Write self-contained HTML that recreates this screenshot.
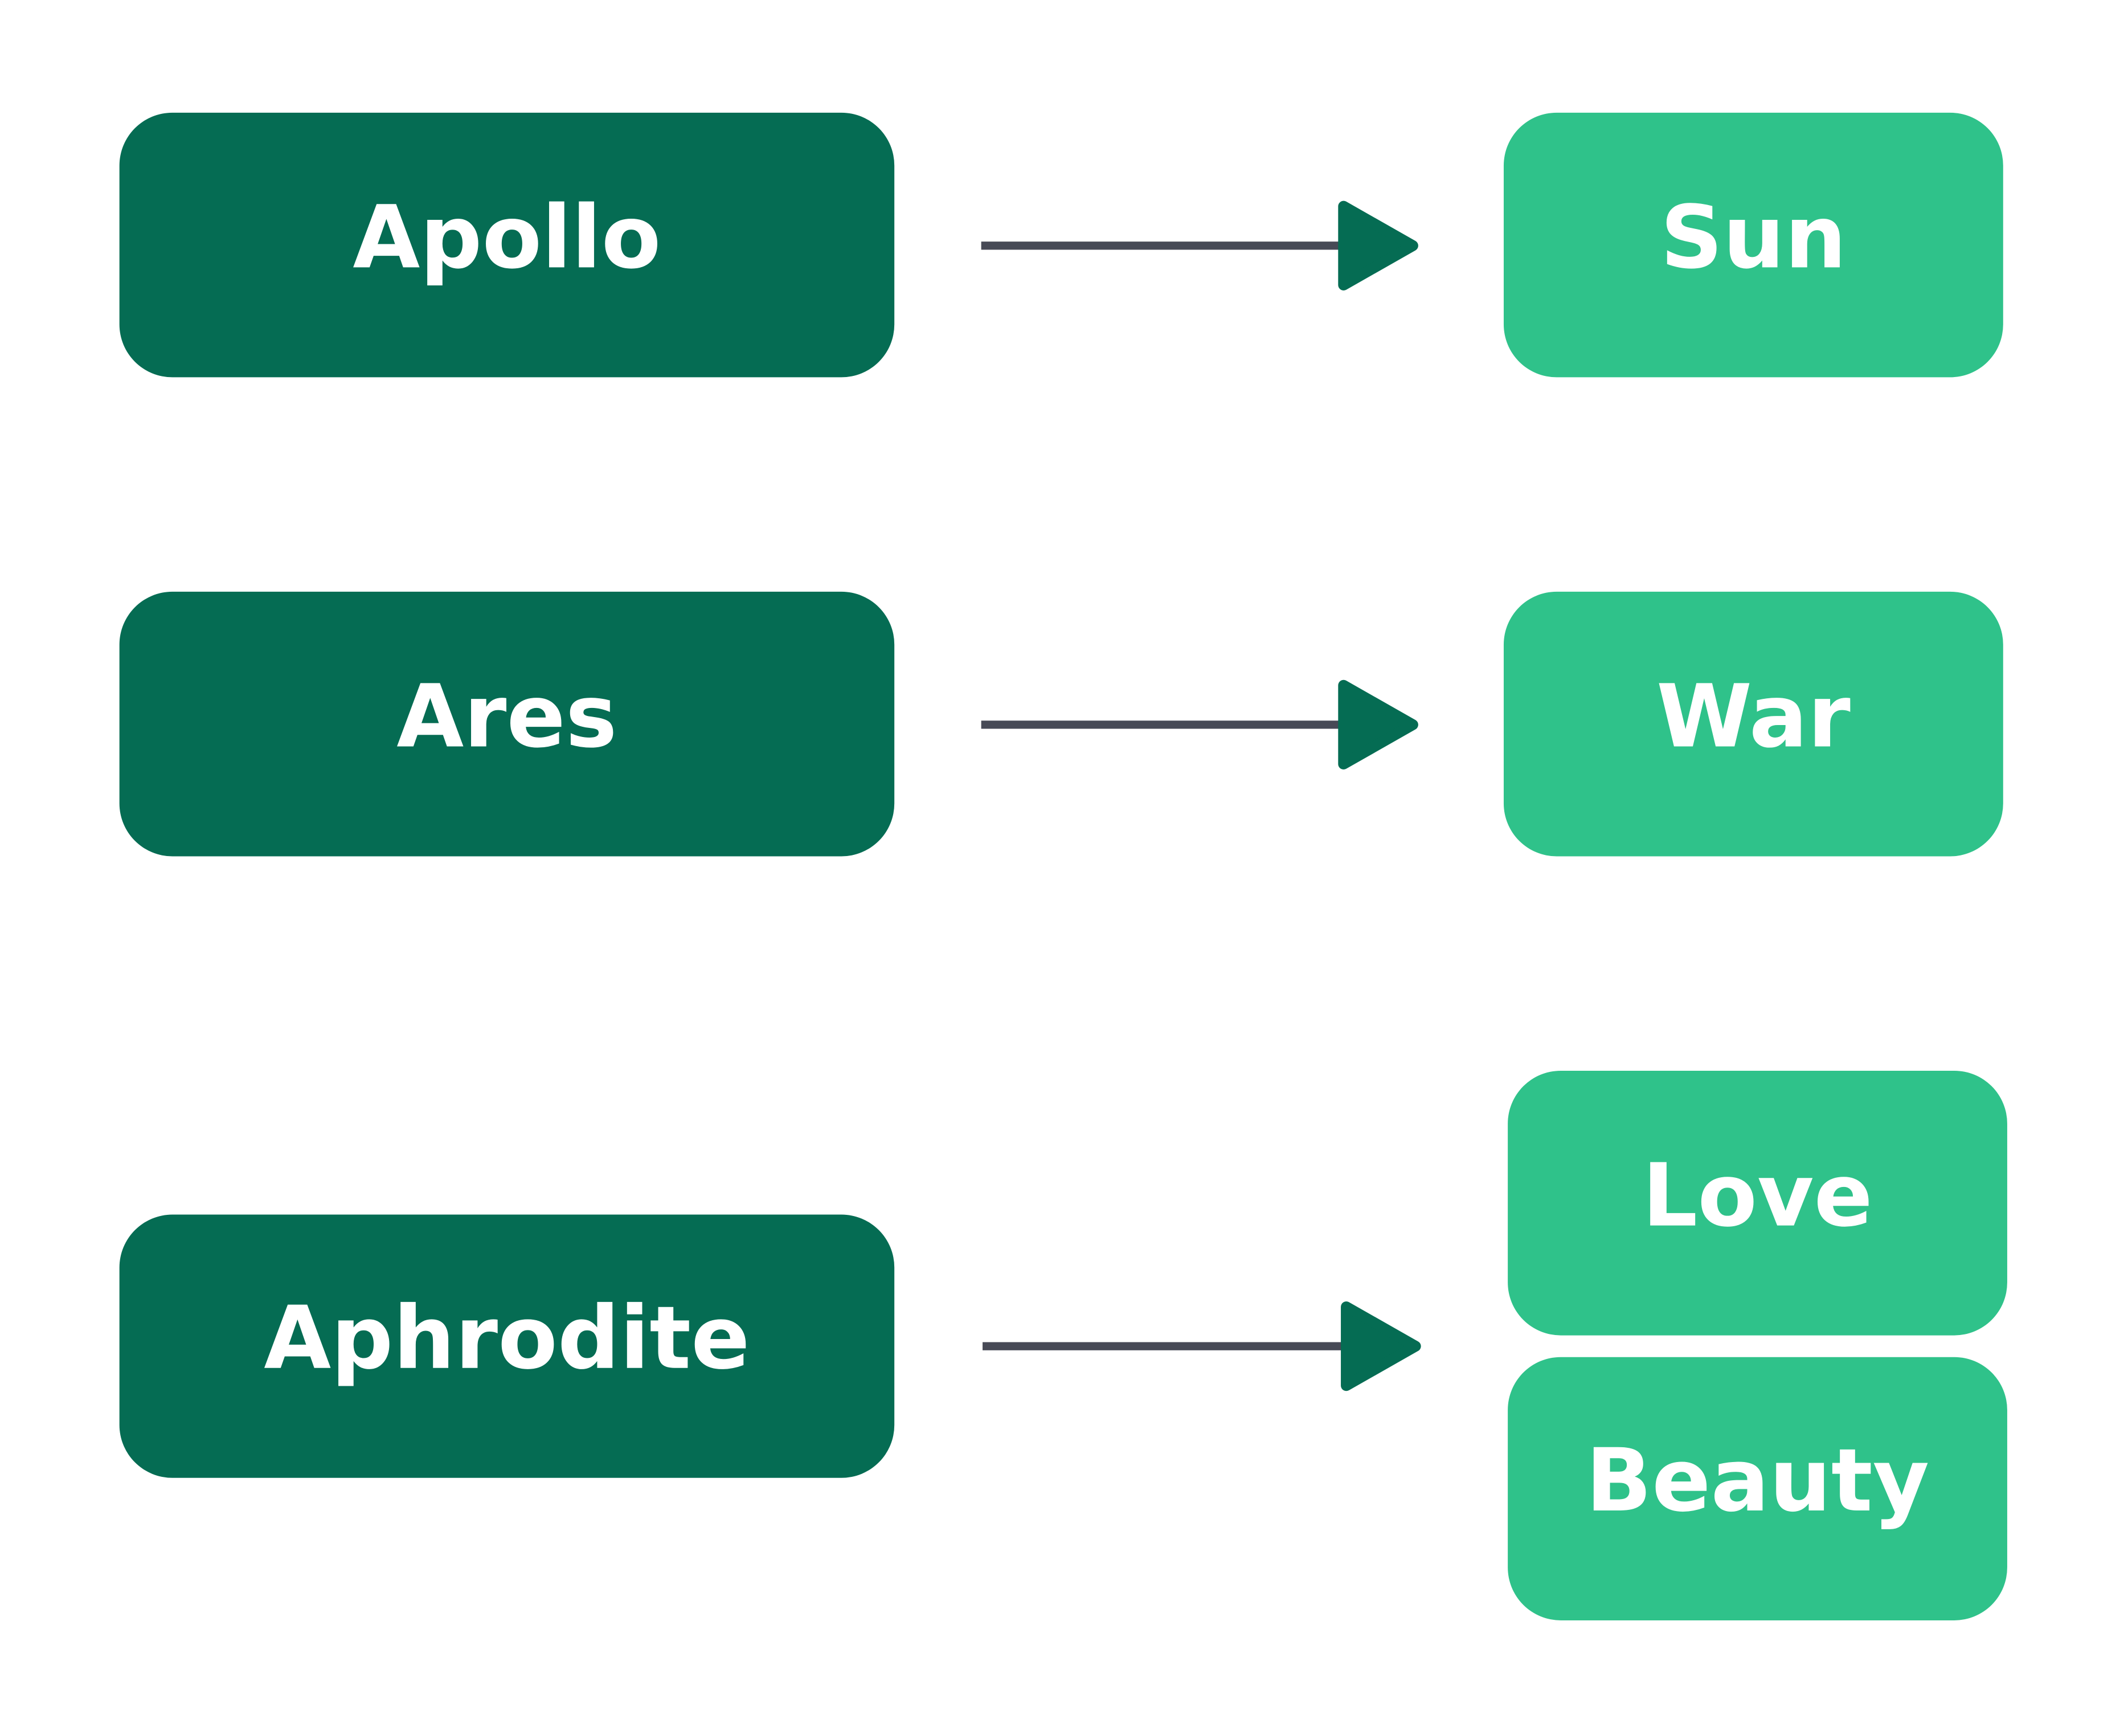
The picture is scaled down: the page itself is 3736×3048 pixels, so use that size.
<!DOCTYPE html>
<html>
<head>
<meta charset="utf-8">
<style>
  html, body { margin: 0; padding: 0; background: #ffffff; }
  svg { display: block; }
  text { font-family: "DejaVu Sans", "Liberation Sans", sans-serif; font-weight: bold; fill: #ffffff; }
</style>
</head>
<body>
<svg width="3736" height="3048" viewBox="0 0 1568 1279.2" xmlns="http://www.w3.org/2000/svg">
  <rect width="1568" height="1279.2" fill="#ffffff"/>

  <!-- Row 1 -->
  <g>
    <rect x="88" y="83" width="571" height="195" rx="39" fill="#056C53"/>
    <text x="373.5" y="197" font-size="64" text-anchor="middle">Apollo</text>
  </g>
  <g>
    <rect x="723" y="178" width="266" height="6" fill="#474A56"/>
    <polygon points="990,152 990,210 1041,181" fill="#056C53" stroke="#056C53" stroke-width="8" stroke-linejoin="round"/>
  </g>
  <g>
    <rect x="1108" y="83" width="368" height="195" rx="39" fill="#2FC28A"/>
    <text x="1292" y="197" font-size="64" text-anchor="middle">Sun</text>
  </g>

  <!-- Row 2 -->
  <g>
    <rect x="88" y="436" width="571" height="195" rx="39" fill="#056C53"/>
    <text x="373.5" y="550" font-size="64" text-anchor="middle">Ares</text>
  </g>
  <g>
    <rect x="723" y="531" width="266" height="6" fill="#474A56"/>
    <polygon points="990,505 990,563 1041,534" fill="#056C53" stroke="#056C53" stroke-width="8" stroke-linejoin="round"/>
  </g>
  <g>
    <rect x="1108" y="436" width="368" height="195" rx="39" fill="#2FC28A"/>
    <text x="1292" y="550" font-size="64" text-anchor="middle">War</text>
  </g>

  <!-- Row 3 -->
  <g>
    <rect x="88" y="895" width="571" height="194" rx="39" fill="#056C53"/>
    <text x="373.5" y="1008" font-size="64" text-anchor="middle">Aphrodite</text>
  </g>
  <g>
    <rect x="724" y="989" width="267" height="6" fill="#474A56"/>
    <polygon points="992,963 992,1021 1043,992" fill="#056C53" stroke="#056C53" stroke-width="8" stroke-linejoin="round"/>
  </g>
  <g>
    <rect x="1111" y="789" width="368" height="195" rx="39" fill="#2FC28A"/>
    <text x="1295" y="903" font-size="64" text-anchor="middle">Love</text>
  </g>
  <g>
    <rect x="1111" y="1000" width="368" height="194" rx="39" fill="#2FC28A"/>
    <text x="1295" y="1113" font-size="64" text-anchor="middle">Beauty</text>
  </g>
</svg>
</body>
</html>
